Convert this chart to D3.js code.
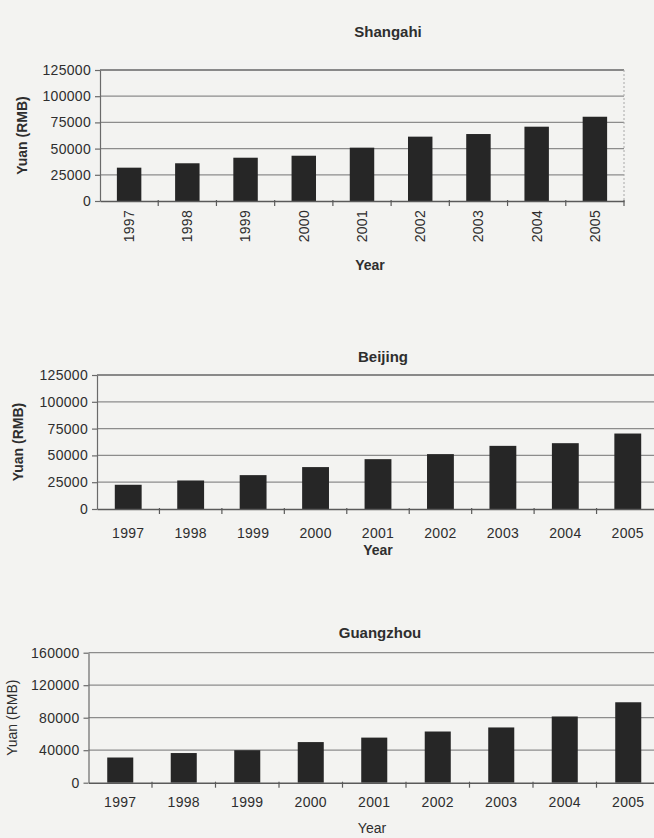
<!DOCTYPE html>
<html>
<head>
<meta charset="utf-8">
<script src="https://cdn.jsdelivr.net/npm/d3@7"></script>
<style>
  html, body { margin: 0; padding: 0; background: #f3f3f1; }
  svg { display: block; }
  text { font-family: "Liberation Sans", Arial, sans-serif; fill: #2e2e2e; }
</style>
</head>
<body>
<svg id="chart" width="654" height="838"></svg>
<script>
// Average annual wage, in yuan, for three cities
const years = ["1997", "1998", "1999", "2000", "2001", "2002", "2003", "2004", "2005"];
const shanghaiWage = [31800, 36000, 41300, 43200, 50900, 61400, 63900, 70900, 80400];
const beijingWage = [22600, 26600, 31600, 39100, 46500, 51200, 58900, 61400, 70400];
const guangzhouWage = [31000, 36500, 40000, 50000, 55500, 63000, 68000, 81500, 99000];

const shanghaiTicks = [0, 25000, 50000, 75000, 100000, 125000];
const beijingTicks = [0, 25000, 50000, 75000, 100000, 125000];
const guangzhouTicks = [0, 40000, 80000, 120000, 160000];

const svg = d3.select("#chart");

const panels = [
  { title: "Shangahi", values: shanghaiWage, ticks: shanghaiTicks,
    left: 100, right: 624, top: 70, bottom: 201, pad: 0.58,
    titleX: 388, titleY: 37, rotate: true, yearX: 370, yearY: 270,
    yLabelX: 27, bold: true, topBorder: true, rightBorder: true },
  { title: "Beijing", values: beijingWage, ticks: beijingTicks,
    left: 97, right: 659, top: 375, bottom: 509, pad: 0.57,
    titleX: 383, titleY: 362, rotate: false, labelY: 538, yearX: 378, yearY: 555,
    yLabelX: 23, bold: true, topBorder: true, rightBorder: false },
  { title: "Guangzhou", values: guangzhouWage, ticks: guangzhouTicks,
    left: 88.5, right: 660, top: 652.7, bottom: 782.7, pad: 0.59,
    titleX: 380, titleY: 638, rotate: false, labelY: 807, yearX: 372, yearY: 833,
    yLabelX: 17, bold: false, topBorder: false, rightBorder: false }
];

panels.forEach(p => {
  const g = svg.append("g");
  const rows = years.map((y, i) => ({ year: y, value: p.values[i] }));

  const x = d3.scaleBand()
    .domain(years)
    .range([p.left, p.right])
    .paddingInner(p.pad)
    .paddingOuter(p.pad / 2);

  const y = d3.scaleLinear()
    .domain([0, d3.max(p.ticks)])
    .range([p.bottom, p.top]);

  const isTop = (i, n) => p.topBorder && i === n.length - 1;

  // horizontal gridlines; the top one doubles as the plot border
  g.append("g")
    .selectAll("line")
    .data(p.ticks.slice(1))
    .join("line")
    .attr("x1", p.left)
    .attr("x2", p.right)
    .attr("y1", d => y(d))
    .attr("y2", d => y(d))
    .attr("stroke", (d, i, n) => isTop(i, n) ? "#666" : "#8c8c8c")
    .attr("stroke-width", (d, i, n) => isTop(i, n) ? 1.5 : 1.2);

  if (p.rightBorder) {
    g.append("line")
      .attr("x1", p.right).attr("x2", p.right)
      .attr("y1", p.top).attr("y2", p.bottom)
      .attr("stroke", "#a8a8a8")
      .attr("stroke-width", 1)
      .attr("stroke-dasharray", "2 2");
  }

  // bars
  g.append("g")
    .selectAll("rect")
    .data(rows)
    .join("rect")
    .attr("x", d => x(d.year))
    .attr("width", x.bandwidth())
    .attr("y", d => y(d.value))
    .attr("height", d => y(0) - y(d.value))
    .attr("fill", "#262626");

  // value axis
  const yAxis = g.append("g")
    .attr("transform", `translate(${p.left},0)`)
    .call(d3.axisLeft(y).tickValues(p.ticks).tickFormat(d3.format("d")).tickSize(5).tickSizeOuter(0).tickPadding(4));
  yAxis.select(".domain").attr("stroke", "#6a6a6a").attr("stroke-width", 1.2);
  yAxis.selectAll(".tick line").attr("stroke", "#6a6a6a").attr("stroke-width", 1.2);
  yAxis.selectAll(".tick text")
    .style("font-size", "14px")
    .style("letter-spacing", "0.3px")
    .attr("fill", "#333");

  // category axis
  const xAxis = g.append("g")
    .attr("transform", `translate(0,${p.bottom})`)
    .call(d3.axisBottom(x).tickSize(0).tickSizeOuter(0).tickPadding(0));
  xAxis.select(".domain").attr("stroke", "#5a5a5a").attr("stroke-width", 1.4);
  xAxis.selectAll(".tick text")
    .style("font-size", "14px")
    .style("letter-spacing", "0.3px")
    .attr("fill", "#333");

  if (p.rotate) {
    xAxis.selectAll(".tick text")
      .attr("transform", "rotate(-90)")
      .attr("text-anchor", "end")
      .attr("x", -9)
      .attr("y", 0)
      .attr("dy", "0.35em");
  } else {
    xAxis.selectAll(".tick text")
      .attr("y", p.labelY - p.bottom)
      .attr("dy", "0");
  }

  // tick marks on the boundaries between categories
  const step = x.step();
  const bounds = d3.range(1, years.length + 1).map(i => x(years[0]) - step * x.paddingInner() / 2 + i * step);
  xAxis.selectAll(".bound")
    .data(bounds.filter(b => b <= 654))
    .join("line")
    .attr("class", "bound")
    .attr("x1", d => d)
    .attr("x2", d => d)
    .attr("y1", -1)
    .attr("y2", 5)
    .attr("stroke", "#5a5a5a")
    .attr("stroke-width", 1.2);

  // titles
  g.append("text")
    .attr("x", p.titleX)
    .attr("y", p.titleY)
    .attr("text-anchor", "middle")
    .style("font-size", "15px")
    .style("font-weight", "bold")
    .text(p.title);

  g.append("text")
    .attr("x", p.yearX)
    .attr("y", p.yearY)
    .attr("text-anchor", "middle")
    .style("font-size", "14px")
    .style("font-weight", p.bold ? "bold" : "normal")
    .text("Year");

  g.append("text")
    .attr("transform", `translate(${p.yLabelX},${(p.top + p.bottom) / 2}) rotate(-90)`)
    .attr("text-anchor", "middle")
    .style("font-size", "14px")
    .style("font-weight", p.bold ? "bold" : "normal")
    .text("Yuan (RMB)");
});
</script>
</body>
</html>
